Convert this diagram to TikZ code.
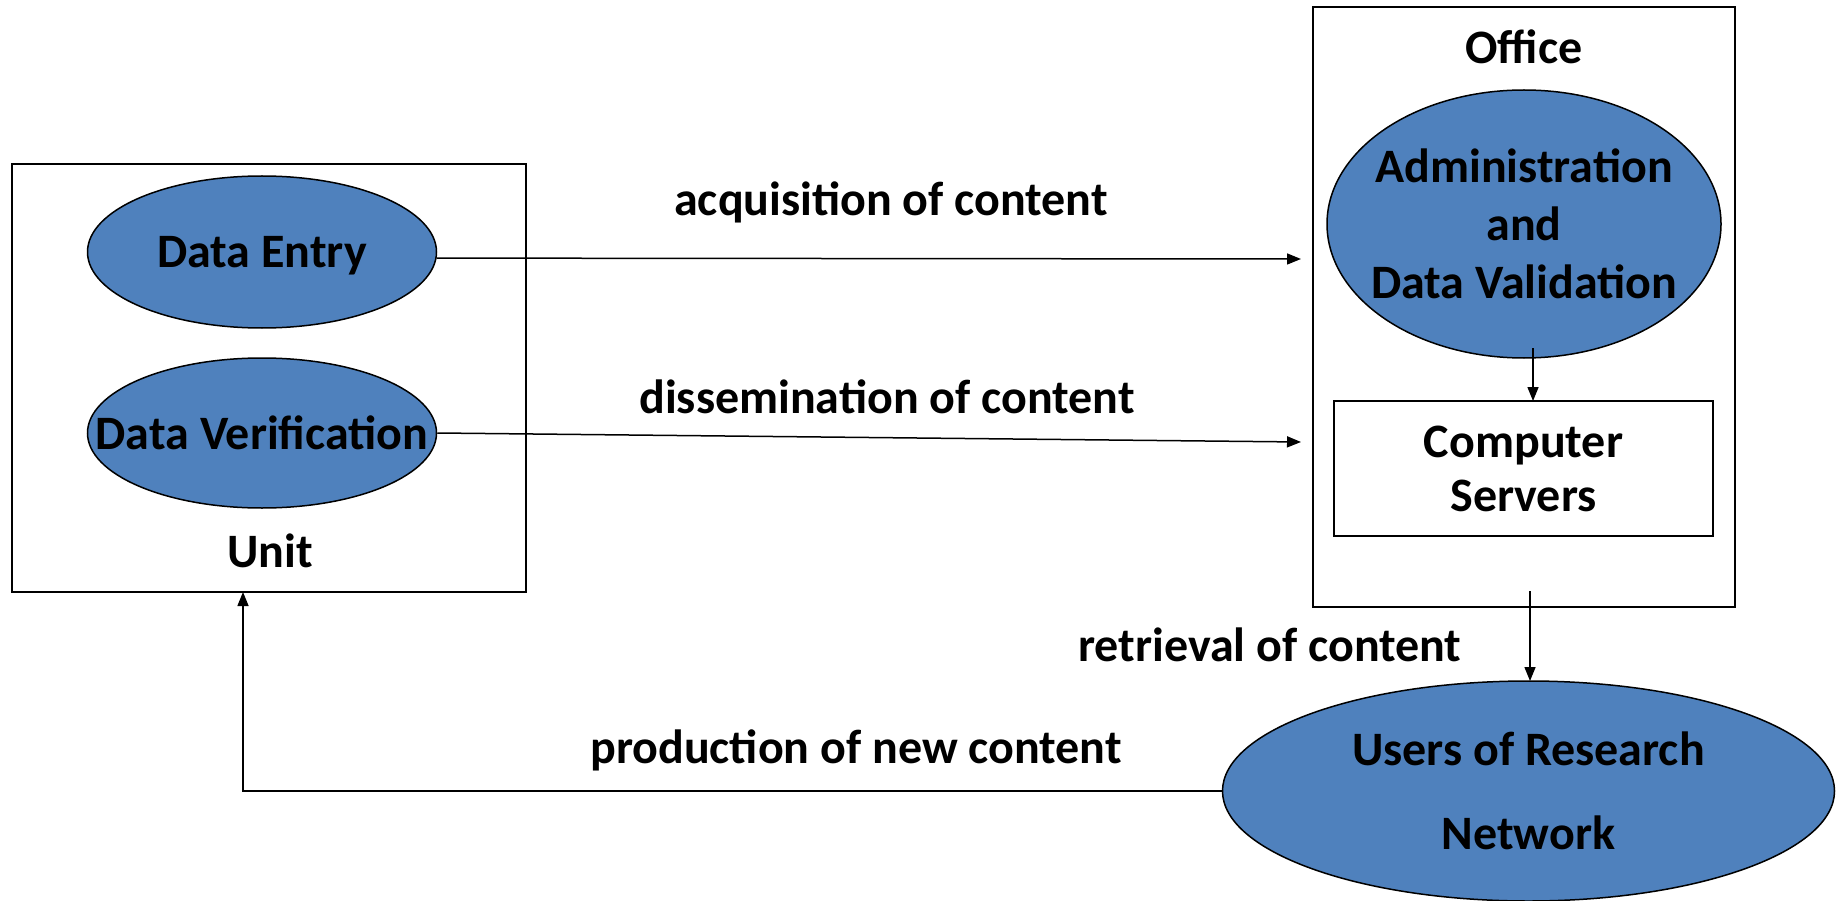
\documentclass[tikz,border=0pt]{standalone}
\usepackage{fontspec}
\setmainfont{Carlito}
\usetikzlibrary{shapes.geometric,arrows.meta}
\definecolor{procblue}{HTML}{4F81BD}
\tikzset{
  proc/.style={ellipse, draw=black, line width=1.5pt, fill=procblue, inner xsep=-80pt, inner ysep=0pt, align=center},
  frame/.style={draw=black, line width=2pt, inner sep=0pt, align=center},
  lbl/.style={inner sep=0pt, align=center},
  flow/.style={line width=1.5pt, -{Triangle[length=14pt,width=11pt]}},
  txt/.style={font=\fontsize{48}{#1}\selectfont\bfseries},
}
\begin{document}
\begin{tikzpicture}[x=1pt,y=-1pt, txt=58]
\useasboundingbox (0,0) rectangle (1838,901);

% Unit and its processes
\node[frame, minimum width=514pt, minimum height=428pt] (unit) at (269,378) {};
\node[proc, minimum width=349pt, minimum height=152pt, text depth=0pt] (de) at (262,252) {Data Entry};
\node[proc, minimum width=349pt, minimum height=150pt] (dv) at (262,433) {Data Verification};
\node[lbl] (unitlbl) at (270,551) {Unit};

% Office and its contents
\node[frame, minimum width=422pt, minimum height=600pt] (office) at (1524,307) {};
\node[lbl] (officelbl) at (1524,47) {Office};
\node[proc, txt=58, minimum width=394pt, minimum height=268pt] (admin) at (1524,224)
  {Administration\\and\\Data Validation};
\node[frame, txt=54, minimum width=379pt, minimum height=135pt] (servers) at (1523.5,468.5)
  {Computer\\Servers};

% Users
\node[proc, txt=84, minimum width=612pt, minimum height=220pt] (users) at (1528.5,791)
  {Users of Research\\Network};

% Connector end points
\coordinate (acqend) at (1301,259);
\coordinate (disend) at (1301,442);
\coordinate (admout) at (1533,348);
\coordinate (srvin) at (1533,401);
\coordinate (offout) at (1530,591);
\coordinate (usrin) at (1530,681);
\coordinate (unitin) at (243,592);

% Flows
\draw[flow] (de.-2) -- (acqend);
\draw[flow] (dv.east) -- (disend);
\draw[flow] (admout) -- (srvin);
\draw[flow] (offout) -- (usrin);
\draw[flow] (users.west) -| (unitin);

% Flow labels
\node[lbl] (acqlbl) at (891,202) {acquisition of content};
\node[lbl] (dislbl) at (887,397) {dissemination of content};
\node[lbl] (retlbl) at (1270,645) {retrieval of content};
\node[lbl] (prodlbl) at (856,750) {production of new content};
\end{tikzpicture}
\end{document}
